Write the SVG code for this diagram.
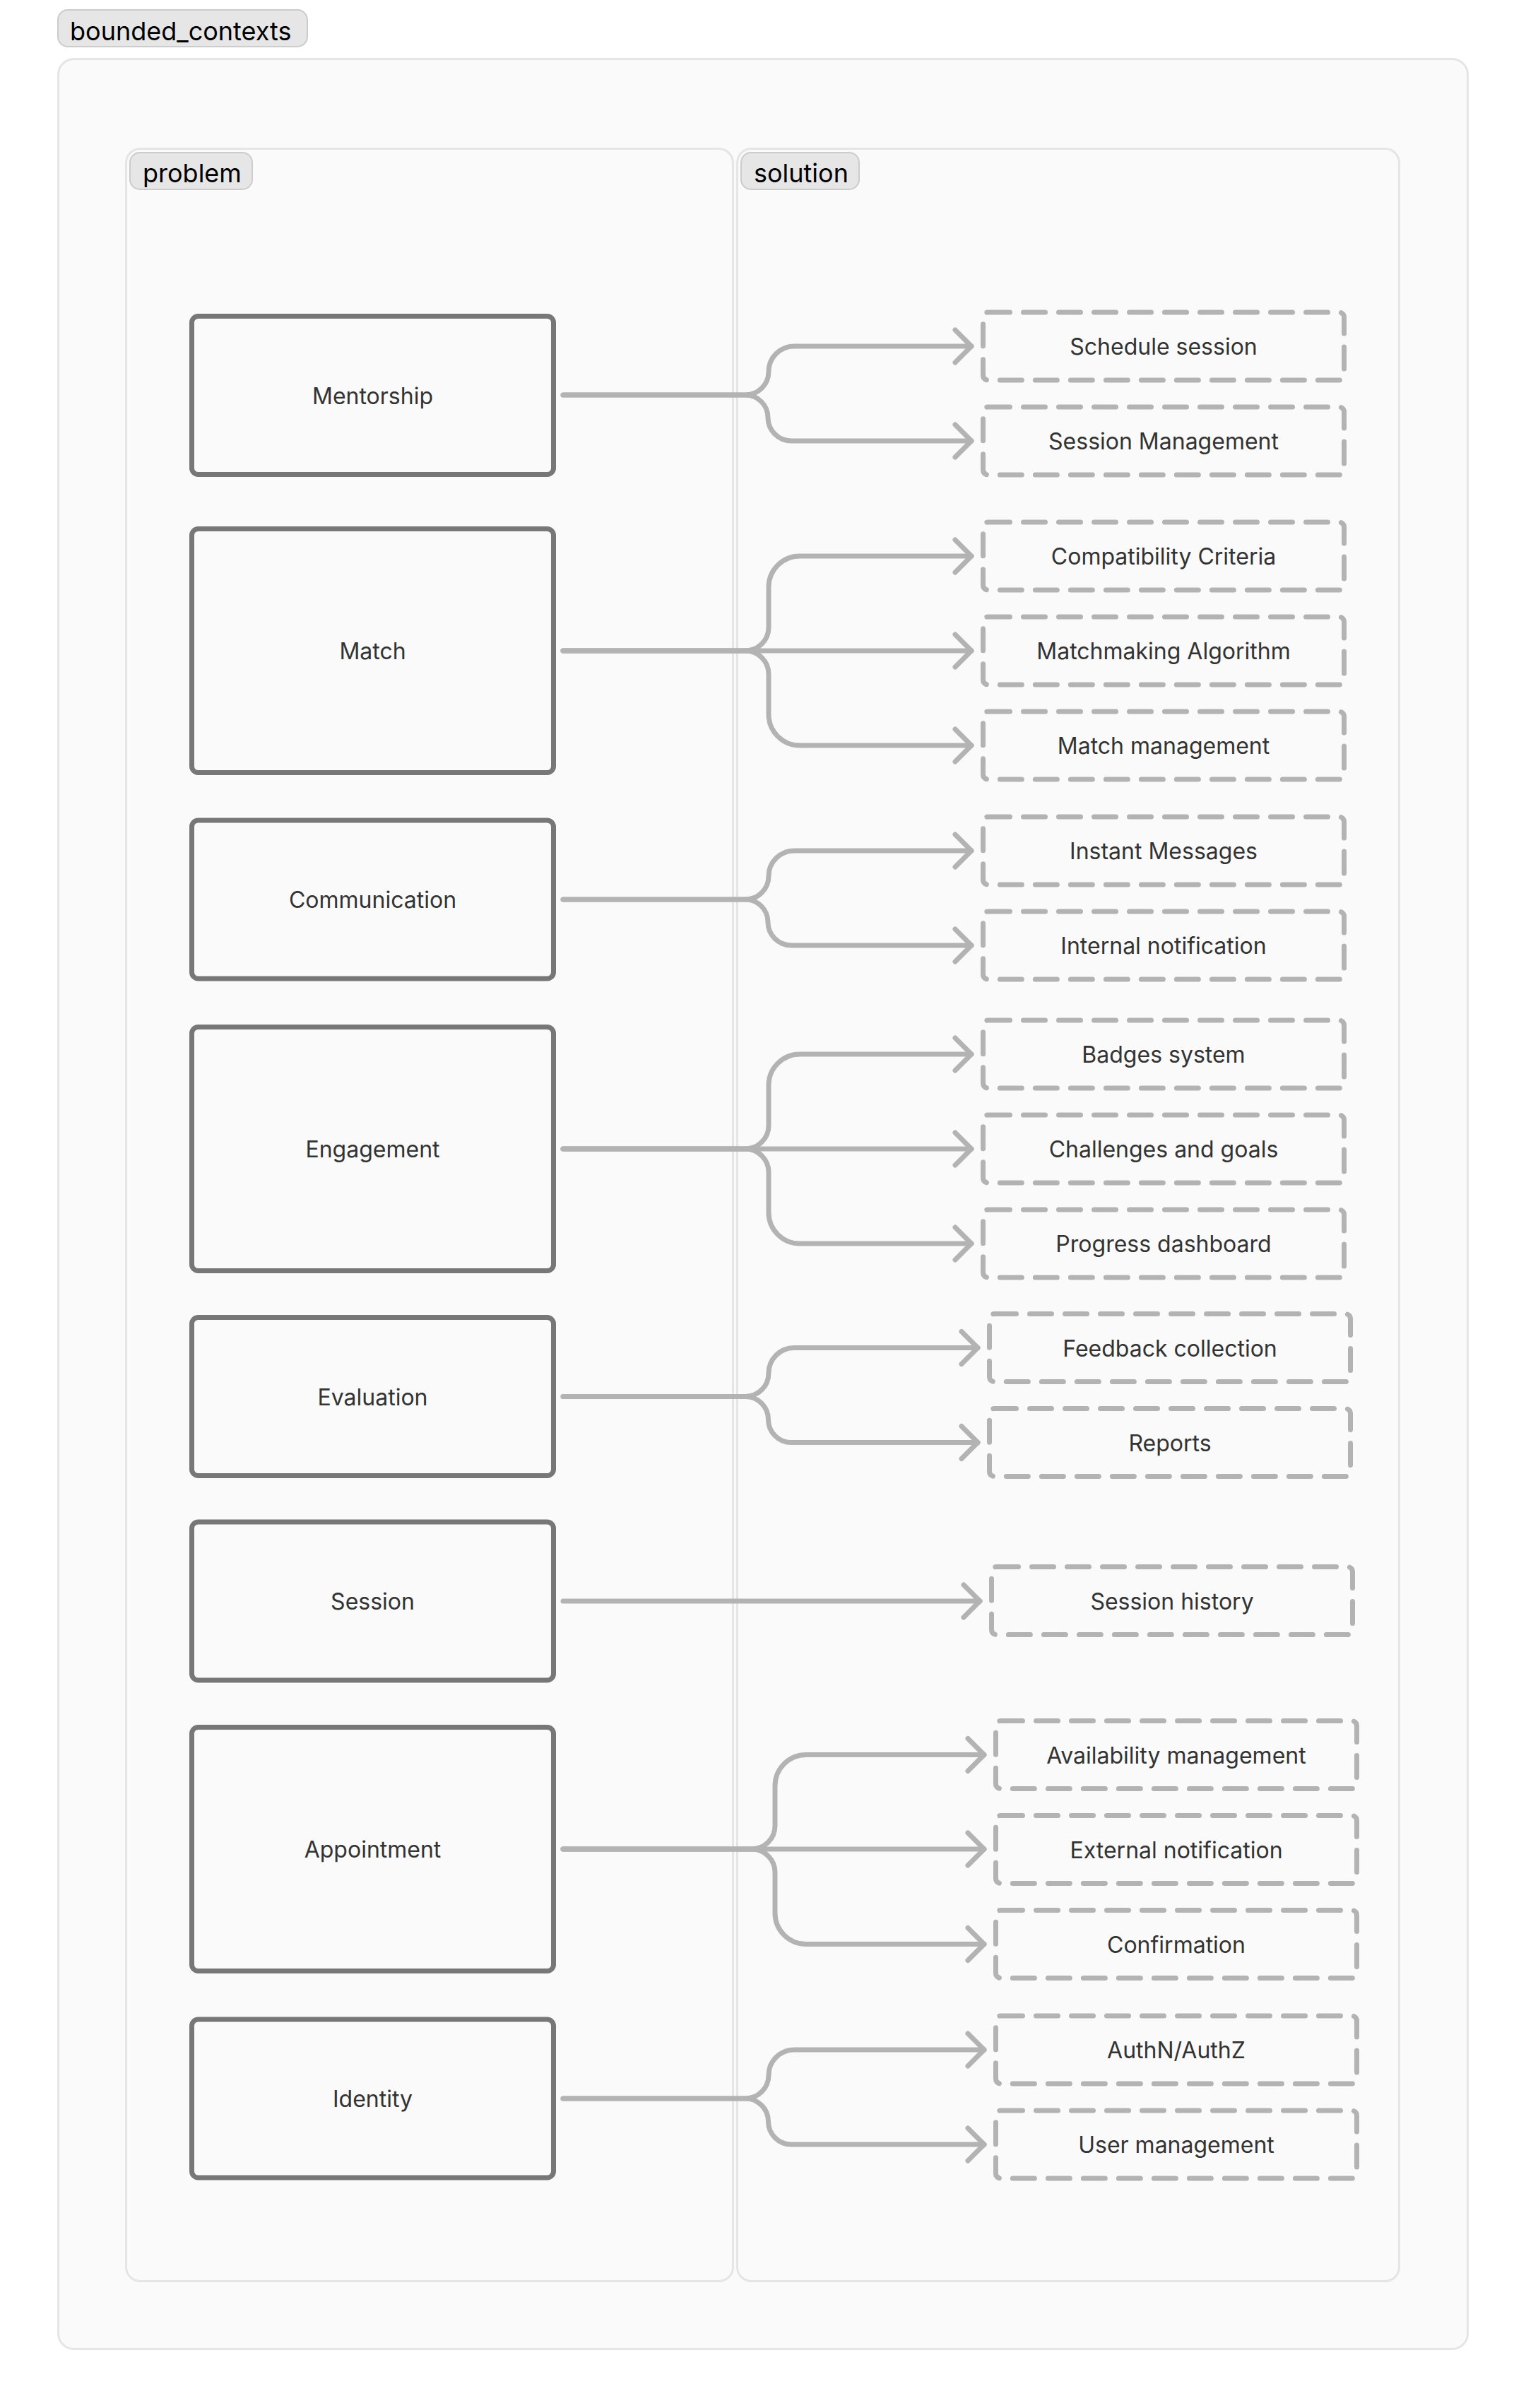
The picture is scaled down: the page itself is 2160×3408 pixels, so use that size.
<svg xmlns="http://www.w3.org/2000/svg" width="2160" height="3408" viewBox="0 0 2160 3408">
<style>
.bg{fill:#ffffff}
.cont{fill:#fafafa;stroke:#e5e5e5;stroke-width:3}
.tag{fill:#e6e6e6;stroke:#cccccc;stroke-width:2}
.tagt{font-family:Inter,"Liberation Sans",sans-serif;font-size:36px;fill:#000000}
.box{fill:#fafafa;stroke:#777777;stroke-width:7}
.dbox{fill:#fafafa;stroke:#b3b3b3;stroke-width:7;stroke-dasharray:31 19;stroke-linecap:round}
.lbl{font-family:Inter,"Liberation Sans",sans-serif;font-size:32px;fill:#333333;text-anchor:middle}
.edge{fill:none;stroke:#b3b3b3;stroke-width:7;stroke-linecap:round;stroke-linejoin:round}
</style>
<defs>
<marker id="arr" markerUnits="userSpaceOnUse" viewBox="-30 -30 36 60" refX="0" refY="0" markerWidth="36" markerHeight="60" orient="auto">
<path d="M -23 -23 L 0 0 L -23 23" fill="none" stroke="#b3b3b3" stroke-width="7" stroke-linecap="round" stroke-linejoin="round"/>
</marker>
</defs>
<rect class="bg" x="0" y="0" width="2160" height="3408"/>
<g id="bounded_contexts">
<rect class="cont" x="82.5" y="83.5" width="1995" height="3241" rx="22"/>
<rect class="tag" x="82" y="14" width="353" height="52" rx="14"/>
<text class="tagt" x="99" y="57">bounded_contexts</text>
</g>
<g id="problem">
<rect class="cont" x="178.5" y="210.5" width="859" height="3018" rx="20"/>
<rect class="tag" x="184" y="216" width="173" height="52" rx="14"/>
<text class="tagt" x="202" y="258">problem</text>
</g>
<g id="solution">
<rect class="cont" x="1043.5" y="210.5" width="937" height="3018" rx="20"/>
<rect class="tag" x="1049" y="216" width="167" height="52" rx="14"/>
<text class="tagt" x="1067" y="258">solution</text>
</g>

<g id="problem.Mentorship"><rect class="box" x="271.5" y="447.5" width="512" height="224" rx="9"/><text class="lbl" x="527.5" y="571.5">Mentorship</text></g>
<g id="problem.Match"><rect class="box" x="271.5" y="748.5" width="512" height="345" rx="9"/><text class="lbl" x="527.5" y="933">Match</text></g>
<g id="problem.Communication"><rect class="box" x="271.5" y="1161" width="512" height="224" rx="9"/><text class="lbl" x="527.5" y="1285">Communication</text></g>
<g id="problem.Engagement"><rect class="box" x="271.5" y="1453.5" width="512" height="345" rx="9"/><text class="lbl" x="527.5" y="1638">Engagement</text></g>
<g id="problem.Evaluation"><rect class="box" x="271.5" y="1864.5" width="512" height="224" rx="9"/><text class="lbl" x="527.5" y="1988.5">Evaluation</text></g>
<g id="problem.Session"><rect class="box" x="271.5" y="2154" width="512" height="224" rx="9"/><text class="lbl" x="527.5" y="2278">Session</text></g>
<g id="problem.Appointment"><rect class="box" x="271.5" y="2444.5" width="512" height="345" rx="9"/><text class="lbl" x="527.5" y="2629">Appointment</text></g>
<g id="problem.Identity"><rect class="box" x="271.5" y="2858" width="512" height="224" rx="9"/><text class="lbl" x="527.5" y="2982">Identity</text></g>

<g id="solution.ScheduleSession"><rect class="dbox" x="1391.5" y="442" width="511" height="96" rx="7"/><text class="lbl" x="1647" y="502">Schedule session</text></g>
<g id="solution.SessionManagement"><rect class="dbox" x="1391.5" y="576" width="511" height="96" rx="7"/><text class="lbl" x="1647" y="636">Session Management</text></g>
<g id="solution.CompatibilityCriteria"><rect class="dbox" x="1391.5" y="739" width="511" height="96" rx="7"/><text class="lbl" x="1647" y="799">Compatibility Criteria</text></g>
<g id="solution.MatchmakingAlgorithm"><rect class="dbox" x="1391.5" y="873" width="511" height="96" rx="7"/><text class="lbl" x="1647" y="933">Matchmaking Algorithm</text></g>
<g id="solution.MatchManagement"><rect class="dbox" x="1391.5" y="1007" width="511" height="96" rx="7"/><text class="lbl" x="1647" y="1067">Match management</text></g>
<g id="solution.InstantMessages"><rect class="dbox" x="1391.5" y="1156" width="511" height="96" rx="7"/><text class="lbl" x="1647" y="1216">Instant Messages</text></g>
<g id="solution.InternalNotification"><rect class="dbox" x="1391.5" y="1290" width="511" height="96" rx="7"/><text class="lbl" x="1647" y="1350">Internal notification</text></g>
<g id="solution.BadgesSystem"><rect class="dbox" x="1391.5" y="1444" width="511" height="96" rx="7"/><text class="lbl" x="1647" y="1504">Badges system</text></g>
<g id="solution.ChallengesAndGoals"><rect class="dbox" x="1391.5" y="1578" width="511" height="96" rx="7"/><text class="lbl" x="1647" y="1638">Challenges and goals</text></g>
<g id="solution.ProgressDashboard"><rect class="dbox" x="1391.5" y="1712" width="511" height="96" rx="7"/><text class="lbl" x="1647" y="1772">Progress dashboard</text></g>
<g id="solution.FeedbackCollection"><rect class="dbox" x="1400.5" y="1859.5" width="511" height="96" rx="7"/><text class="lbl" x="1656" y="1919.5">Feedback collection</text></g>
<g id="solution.Reports"><rect class="dbox" x="1400.5" y="1993.5" width="511" height="96" rx="7"/><text class="lbl" x="1656" y="2053.5">Reports</text></g>
<g id="solution.SessionHistory"><rect class="dbox" x="1403.5" y="2217.5" width="511" height="96" rx="7"/><text class="lbl" x="1659" y="2277.5">Session history</text></g>
<g id="solution.AvailabilityManagement"><rect class="dbox" x="1409.5" y="2435.5" width="511" height="96" rx="7"/><text class="lbl" x="1665" y="2495.5">Availability management</text></g>
<g id="solution.ExternalNotification"><rect class="dbox" x="1409.5" y="2569.5" width="511" height="96" rx="7"/><text class="lbl" x="1665" y="2629.5">External notification</text></g>
<g id="solution.Confirmation"><rect class="dbox" x="1409.5" y="2703.5" width="511" height="96" rx="7"/><text class="lbl" x="1665" y="2763.5">Confirmation</text></g>
<g id="solution.AuthNAuthZ"><rect class="dbox" x="1409.5" y="2853" width="511" height="96" rx="7"/><text class="lbl" x="1665" y="2913">AuthN/AuthZ</text></g>
<g id="solution.UserManagement"><rect class="dbox" x="1409.5" y="2987" width="511" height="96" rx="7"/><text class="lbl" x="1665" y="3047">User management</text></g>

<g id="connectors">
<path class="edge" marker-end="url(#arr)" d="M 797 559 H 1055 A 33 33 0 0 0 1088 526 V 526 A 36 36 0 0 1 1124 490 H 1375"/>
<path class="edge" marker-end="url(#arr)" d="M 797 559 H 1055 A 32 32 0 0 1 1087 591 V 591 A 33 33 0 0 0 1120 624 H 1375"/>

<path class="edge" marker-end="url(#arr)" d="M 797 921 H 1055 A 33 33 0 0 0 1088 888 V 831 A 44 44 0 0 1 1132 787 H 1375"/>
<path class="edge" marker-end="url(#arr)" d="M 797 921 H 1375"/>
<path class="edge" marker-end="url(#arr)" d="M 797 921 H 1055 A 33 33 0 0 1 1088 954 V 1011 A 44 44 0 0 0 1132 1055 H 1375"/>

<path class="edge" marker-end="url(#arr)" d="M 797 1273 H 1055 A 33 33 0 0 0 1088 1240 A 36 36 0 0 1 1124 1204 H 1375"/>
<path class="edge" marker-end="url(#arr)" d="M 797 1273 H 1055 A 32 32 0 0 1 1087 1305 A 33 33 0 0 0 1120 1338 H 1375"/>

<path class="edge" marker-end="url(#arr)" d="M 797 1626 H 1055 A 33 33 0 0 0 1088 1593 V 1536 A 44 44 0 0 1 1132 1492 H 1375"/>
<path class="edge" marker-end="url(#arr)" d="M 797 1626 H 1375"/>
<path class="edge" marker-end="url(#arr)" d="M 797 1626 H 1055 A 33 33 0 0 1 1088 1659 V 1716 A 44 44 0 0 0 1132 1760 H 1375"/>

<path class="edge" marker-end="url(#arr)" d="M 797 1976.5 H 1055 A 33 33 0 0 0 1088 1943.5 A 36 36 0 0 1 1124 1907.5 H 1384"/>
<path class="edge" marker-end="url(#arr)" d="M 797 1976.5 H 1055 A 32.5 32.5 0 0 1 1087.5 2009 A 32.5 32.5 0 0 0 1120 2041.5 H 1384"/>

<path class="edge" marker-end="url(#arr)" d="M 797 2266 H 1387"/>

<path class="edge" marker-end="url(#arr)" d="M 797 2617 H 1064 A 33 33 0 0 0 1097 2584 V 2527.5 A 44 44 0 0 1 1141 2483.5 H 1393"/>
<path class="edge" marker-end="url(#arr)" d="M 797 2617 H 1393"/>
<path class="edge" marker-end="url(#arr)" d="M 797 2617 H 1064 A 33 33 0 0 1 1097 2650 V 2707.5 A 44 44 0 0 0 1141 2751.5 H 1393"/>

<path class="edge" marker-end="url(#arr)" d="M 797 2970 H 1055 A 33 33 0 0 0 1088 2937 A 36 36 0 0 1 1124 2901 H 1393"/>
<path class="edge" marker-end="url(#arr)" d="M 797 2970 H 1055 A 32.5 32.5 0 0 1 1087.5 3002.5 A 32.5 32.5 0 0 0 1120 3035 H 1393"/>
</g>
</svg>
